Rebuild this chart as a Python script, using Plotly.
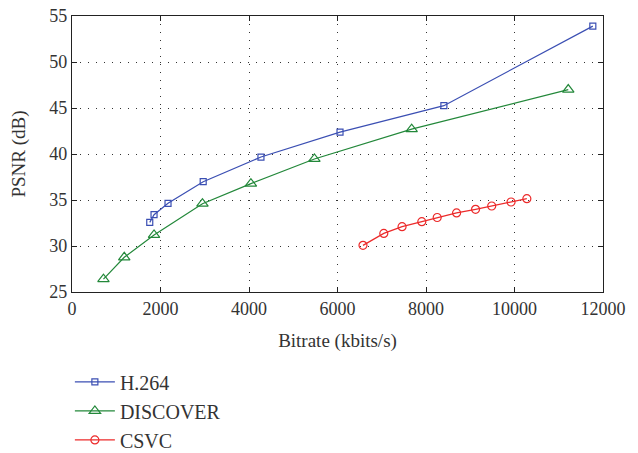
import plotly.graph_objects as go

h264_x = [1757, 1854, 2170, 2965, 4270, 6057, 8404, 11770]
h264_y = [32.57, 33.4, 34.64, 36.99, 39.67, 42.37, 45.25, 53.9]
disc_x = [711, 1181, 1854, 2948, 4043, 5478, 7676, 11215]
disc_y = [26.4, 28.77, 31.2, 34.6, 36.78, 39.46, 42.7, 47.0]
csvc_x = [6576, 7046, 7459, 7905, 8253, 8691, 9120, 9485, 9922, 10279]
csvc_y = [30.07, 31.37, 32.1, 32.64, 33.1, 33.6, 33.99, 34.35, 34.78, 35.14]

x_ticks = [0, 2000, 4000, 6000, 8000, 10000, 12000]
y_ticks = [25, 30, 35, 40, 45, 50, 55]

FONT = "Liberation Serif"
fig = go.Figure()
fig.add_trace(go.Scatter(x=h264_x, y=h264_y, name="H.264", mode="lines+markers",
                         line=dict(color="#3b4fb3", width=1.2),
                         marker=dict(symbol="square-open", size=6, color="#3b4fb3", line=dict(width=1.2))))
fig.add_trace(go.Scatter(x=disc_x, y=disc_y, name="DISCOVER", mode="lines+markers",
                         line=dict(color="#23883a", width=1.2),
                         marker=dict(symbol="triangle-up-open", size=10, color="#23883a", line=dict(width=1.2))))
fig.add_trace(go.Scatter(x=csvc_x, y=csvc_y, name="CSVC", mode="lines+markers",
                         line=dict(color="#ec2a2a", width=1.2),
                         marker=dict(symbol="circle-open", size=8, color="#ec2a2a", line=dict(width=1.2))))

axis_common = dict(showline=True, linecolor="#222", linewidth=1.3, mirror="ticks",
                   ticks="inside", ticklen=5, tickcolor="#222", showgrid=True,
                   gridcolor="#333", griddash="1px,7px", gridwidth=1, zeroline=False,
                   automargin=False,
                   tickfont=dict(family=FONT, size=18, color="#333"))
fig.update_xaxes(range=[0, 12000], tickvals=x_ticks, ticktext=[str(v) for v in x_ticks],
                 title=dict(text="Bitrate (kbits/s)", font=dict(family=FONT, size=19, color="#333"), standoff=15),
                 **axis_common)
fig.update_yaxes(range=[25, 55], tickvals=y_ticks, ticktext=[str(v) for v in y_ticks],
                 title=dict(text="PSNR (dB)", font=dict(family=FONT, size=19, color="#333"), standoff=18),
                 **axis_common)
fig.update_layout(width=638, height=453, margin=dict(l=72, r=35, t=16, b=161, autoexpand=False),
                  plot_bgcolor="white", paper_bgcolor="white",
                  font=dict(family=FONT, color="#333"),
                  legend=dict(x=-0.004, y=-0.255, xanchor="left", yanchor="top",
                              font=dict(family=FONT, size=20, color="#333"),
                              itemwidth=40,
                              bgcolor="rgba(0,0,0,0)"))
fig.write_html("out.html", config={"displayModeBar": False},
               post_script="document.body.style.margin='0';")
